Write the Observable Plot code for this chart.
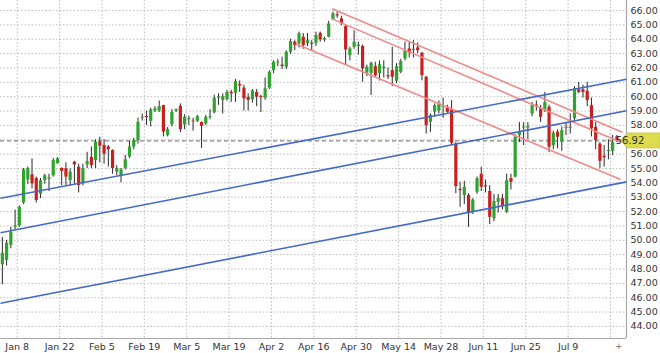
<!DOCTYPE html>
<html><head><meta charset="utf-8">
<script src="https://cdn.jsdelivr.net/npm/d3@7"></script>
<script src="https://cdn.jsdelivr.net/npm/@observablehq/plot@0.6"></script>
<style>html,body{margin:0;padding:0;background:#fff}svg{display:block}</style>
</head><body><div id="chart"></div>
<script>
// Daily candles, one per weekday slot (slot 0 = Jan 2)
const opens = [48.3,48.6,49.65,50.9,51.0,52.6,54.2,54.56,54.3,53.2,
54.15,54.25,54.5,55.33,55.0,54.98,54.16,55.44,55.09,53.93,
55.25,55.78,55.55,56.83,56.6,56.5,56.25,54.74,54.5,55.02,
55.8,56.5,56.95,58.5,58.62,58.29,59.0,59.0,59.38,57.3,
58.04,59.0,59.33,58.04,58.4,58.3,58.3,58.2,58.1,58.55,
58.88,59.9,59.73,59.8,60.3,60.24,60.85,60.6,59.95,59.8,
60.3,60.02,59.9,60.6,61.82,62.35,62.2,62.05,63.1,63.8,
63.68,64.14,63.7,63.72,63.72,64.42,63.95,64.14,65.35,65.7,
65.42,64.88,62.87,63.45,63.5,63.5,61.63,61.63,62.1,61.6,
61.95,61.46,61.82,61.08,61.7,62.63,63.33,63.22,63.4,63.03,
61.36,58.22,58.92,59.0,59.25,59.27,59.08,56.7,53.55,53.12,
53.12,51.95,53.35,54.6,53.8,53.4,51.5,52.65,52.9,51.95,
54.3,54.4,57.3,57.82,57.82,58.8,59.42,59.16,59.04,59.27,
56.6,57.53,56.83,57.78,57.8,58.46,60.48,60.48,60.38,59.38,
57.87,56.7,55.85,56.18,56.2,57.2];
const highs = [50.2,50.0,50.9,52.1,52.4,55.0,55.1,55.67,54.4,54.3,
54.6,54.6,55.7,55.75,55.05,55.4,54.97,55.5,55.3,55.3,
56.13,56.5,57.0,57.18,57.0,56.6,56.3,55.2,55.0,55.9,
56.9,57.1,58.5,58.8,59.0,59.2,59.3,59.7,59.4,57.85,
59.1,59.15,59.5,58.75,58.65,58.5,58.7,58.25,58.7,59.1,
60.1,60.2,60.2,60.45,60.45,61.2,61.1,60.8,60.2,60.5,
60.5,60.1,61.3,61.8,62.5,62.6,62.75,63.2,64.0,63.9,
64.5,64.4,64.4,63.9,64.5,64.5,64.15,65.25,65.9,65.9,
65.6,64.95,63.45,64.6,63.8,63.6,62.2,62.4,62.4,62.5,
62.5,62.0,63.45,62.3,62.6,63.8,63.8,63.9,63.75,63.1,
61.4,58.8,59.5,59.7,59.9,59.4,59.73,56.8,54.05,54.1,
53.25,52.9,54.4,55.1,54.2,53.8,53.2,53.2,53.2,54.6,
54.6,57.35,58.2,58.2,58.2,59.6,59.7,59.4,60.3,59.4,
57.6,57.7,57.9,58.2,58.8,60.7,61.0,60.8,61.0,59.9,
58.2,56.8,56.6,57.0,57.3,57.3];
const lows = [46.9,48.2,49.4,50.7,50.9,52.5,53.9,53.58,52.6,52.9,
53.9,53.4,54.4,55.3,53.8,53.8,53.8,53.9,53.3,53.8,
55.0,55.0,55.0,55.4,55.3,55.1,54.6,54.5,54.0,54.9,
55.7,56.3,56.7,58.3,58.0,57.9,58.9,58.9,57.2,57.2,
57.9,58.9,57.5,57.7,58.0,57.6,58.2,56.4,58.0,58.4,
58.8,59.4,58.8,59.7,59.6,59.6,60.3,59.0,59.0,59.55,
59.3,58.9,59.75,60.5,61.6,62.1,61.9,61.9,62.95,63.2,
63.4,63.3,63.5,63.2,63.5,63.8,63.8,64.1,65.3,65.45,
64.95,62.17,62.5,63.3,62.9,61.0,61.4,60.08,61.3,61.1,
61.3,61.2,60.7,60.9,61.6,62.5,62.7,62.7,63.0,61.1,
57.4,57.5,58.6,58.8,58.5,58.85,56.6,53.24,52.3,52.5,
50.9,51.8,53.2,53.4,53.3,51.1,51.3,51.9,52.1,51.85,
53.5,54.35,56.8,56.6,57.0,58.6,59.0,58.2,58.9,56.1,
56.3,56.37,56.2,57.3,57.4,58.3,60.2,59.9,59.3,57.2,
56.3,54.98,55.1,55.6,55.9,56.8];
const closes = [49.1,49.8,50.55,51.0,52.3,54.9,55.0,53.93,52.77,54.15,
54.5,54.35,55.55,55.67,54.8,54.4,54.74,55.25,53.81,54.98,
55.48,55.2,56.83,56.55,56.0,56.3,55.0,55.0,54.9,55.6,
56.5,56.95,58.2,58.56,58.54,59.08,59.15,59.3,57.53,57.7,
58.9,59.1,57.7,58.57,58.47,58.25,58.6,57.94,58.57,58.61,
59.9,60.0,60.0,60.3,60.2,61.05,60.75,59.85,59.75,60.4,
59.96,59.95,60.55,61.7,62.4,62.41,62.1,63.1,63.84,63.56,
64.38,63.56,63.9,63.65,64.26,63.96,64.05,65.07,65.77,65.62,
65.07,63.26,63.33,63.8,63.6,61.94,62.05,62.33,61.47,62.22,
62.05,61.38,61.36,62.1,62.45,63.2,63.03,63.3,63.2,61.47,
57.99,58.69,59.38,59.5,59.3,58.92,56.76,53.74,53.45,53.7,
51.95,52.8,54.28,53.7,53.72,51.6,52.7,52.9,52.35,54.16,
54.04,57.18,57.53,57.88,57.9,59.38,59.35,58.57,59.6,56.48,
57.46,57.18,57.64,57.85,57.86,60.55,60.3,60.3,59.73,57.76,
56.95,55.5,55.75,56.25,56.8,56.92];

// x-axis ticks (Monday slots) and labels
const tickSlots = [4,14,24,34,44,54,64,74,84,94,104,114,124,134,144];
const tickLabels = ["Jan 8","Jan 22","Feb 5","Feb 19","Mar 5","Mar 19","Apr 2","Apr 16","Apr 30","May 14","May 28","Jun 11","Jun 25","Jul 9",""];
// y-axis ticks
const yTicks = [44,45,46,47,48,49,50,51,52,53,54,55,56,57,58,59,60,61,62,63,64,65,66];

// channel lines: [slotStart, valueStart, slotEnd, valueEnd]
const blueLines = [[-0.44,52.93,147.27,61.21],[-0.44,50.52,147.27,59.02],[-0.44,45.62,147.27,54.07]];
const redLines = [[77.8,66.12,146.3,57.53],[77.8,65.42,145.9,56.83],[69.2,63.68,145.9,54.23]];

const xDomain = [-0.44, 147.27];
const yDomain = [43.16, 66.70];

const candles = closes.map((c, i) => ({i, o: opens[i], h: highs[i], l: lows[i], c}));
const lastClose = closes[closes.length - 1];
const gridPos = tickSlots.map(s => s - 0.5);
const labelAt = new Map(gridPos.map((p, k) => [p, tickLabels[k]]));
const toLink = a => a.map(([s0, v0, s1, v1]) => ({s0, v0, s1, v1}));
// the price tag hides the tick label it sits on
const yLabelTicks = yTicks.filter(t => Math.abs(t - lastClose) > 0.6);

const UP = "#2ea32e", DOWN = "#c8201e";

function priceTag(index, scales, values, dims) {
  const y = scales.y(lastClose);
  const x0 = dims.width - dims.marginRight;
  const W = dims.width;
  const g = d3.create("svg:g");
  g.append("path")
    .attr("d", `M${x0 - 5},${y} L${x0 + 1},${y - 7.5} L${W},${y - 7.5} L${W},${y + 7.5} L${x0 + 1},${y + 7.5} Z`)
    .attr("fill", "#dcdc4c").attr("stroke", "#c6c63c").attr("stroke-width", 0.8);
  g.append("text").attr("x", x0 + 4).attr("y", y).attr("dy", "0.35em")
    .attr("fill", "#333").attr("font-size", 10).attr("font-family", "DejaVu Sans, sans-serif")
    .text(lastClose.toFixed(2));
  return g.node();
}

const chart = Plot.plot({
  width: 660, height: 353,
  marginLeft: 0, marginRight: 34, marginTop: 0, marginBottom: 15,
  style: {fontFamily: "'DejaVu Sans', Verdana, sans-serif", fontSize: "9px", color: "#333", background: "#fff", overflow: "visible"},
  x: {type: "linear", domain: xDomain},
  y: {domain: yDomain},
  marks: [
    Plot.ruleY(yTicks, {stroke: "#bdbdbd", strokeDasharray: "1.5,2"}),
    Plot.ruleX(gridPos, {stroke: "#bdbdbd", strokeDasharray: "1.5,2"}),
    Plot.ruleY([yDomain[0]], {stroke: "#a8a8a8", strokeWidth: 1.2}),
    Plot.ruleX([xDomain[1]], {stroke: "#a8a8a8", strokeWidth: 1.2}),
    Plot.axisY(yLabelTicks, {anchor: "right", tickSize: 0, tickPadding: 4, tickFormat: d => d.toFixed(2), fill: "#333", fontSize: 9.5}),
    Plot.axisX(gridPos, {anchor: "bottom", tickSize: 0, tickPadding: 5, tickFormat: d => labelAt.get(d), fill: "#333", fontSize: 9.5}),
    Plot.ruleY([lastClose], {stroke: "#6a6a6a", strokeDasharray: "4,3"}),
    Plot.ruleX(candles, {x: "i", y1: "l", y2: "h", stroke: "#2a2a2a", strokeWidth: 1}),
    Plot.ruleX(candles, {x: "i", y1: "o", y2: "c", stroke: d => d.c >= d.o ? UP : DOWN, strokeWidth: 3.2}),
    Plot.link(toLink(redLines), {x1: "s0", y1: "v0", x2: "s1", y2: "v1", stroke: "#ee8a8a", strokeWidth: 1.6}),
    Plot.link(toLink(blueLines), {x1: "s0", y1: "v0", x2: "s1", y2: "v1", stroke: "#4469c9", strokeWidth: 1.6}),
    Plot.text(["+"], {text: d => d, frameAnchor: "bottom-right", dx: -4, dy: 10, fill: "#777", fontSize: 9}),
    priceTag
  ]
});
document.getElementById("chart").appendChild(chart);
</script>
</body></html>
